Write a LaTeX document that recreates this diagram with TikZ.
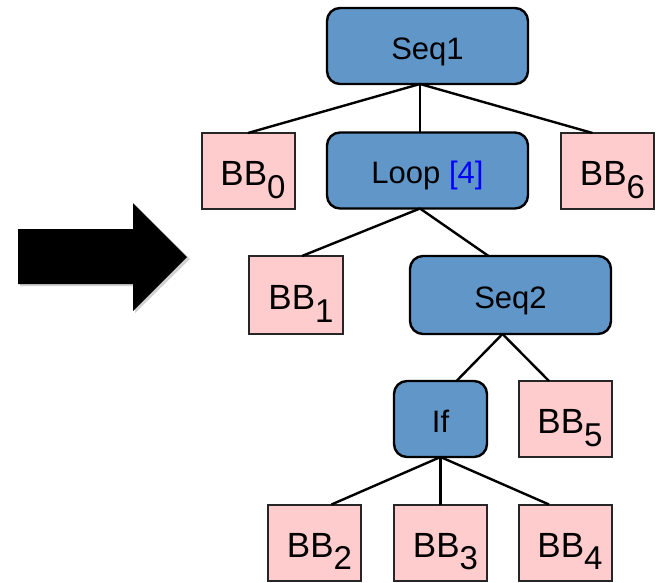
\documentclass[tikz,border=0pt]{standalone}
\usepackage{fontspec}
\setmainfont{Liberation Sans}
\usetikzlibrary{calc}
\definecolor{regionblue}{RGB}{97,150,200}
\definecolor{blockpink}{RGB}{255,204,206}
\definecolor{loopblue}{RGB}{0,0,255}
\newcommand\bblabel[1]{\hspace*{10pt}BB\raisebox{-0.36em}{\fontsize{33}{33}\selectfont #1}}
\begin{document}
\begin{tikzpicture}[x=1pt,y=1pt,
  region/.style={draw=black, line width=2.4pt, fill=regionblue, rounded corners=13pt,
    inner sep=0pt, outer sep=0pt, minimum height=76pt,
    text height=26pt, text depth=0pt,
    font=\fontsize{31}{31}\selectfont},
  wide/.style={minimum width=201pt},
  narrow/.style={minimum width=93pt},
  block/.style={draw=black!85, line width=2pt, fill=blockpink, inner sep=0pt, outer sep=0pt,
    minimum width=93pt, minimum height=76pt, text height=29pt, text depth=0pt,
    font=\fontsize{35}{35}\selectfont},
  edge/.style={line width=2.4pt, black}]
\useasboundingbox (0,0) rectangle (662,-582);

% big arrow on the left, with a faint shadow
\fill[black, opacity=0.18] (20,-231) -- (135,-231) -- (135,-205) -- (190,-259)
  -- (135,-313) -- (135,-286) -- (20,-286) -- cycle;
\fill[black] (18,-229) -- (133,-229) -- (133,-203) -- (187,-257)
  -- (133,-311) -- (133,-284) -- (18,-284) -- cycle;

% tree nodes
\node[region, wide]   (seq1) at (427.5,-46)  {Seq1};
\node[block]          (bb0)  at (248,-171)   {\bblabel{0}};
\node[region, wide]   (loop) at (427.5,-170.5) {Loop \textcolor{loopblue}{[4]}};
\node[block]          (bb6)  at (607.5,-171) {\bblabel{6}};
\node[block, minimum height=78pt, minimum width=94pt] (bb1) at (296,-295) {\bblabel{1}};
\node[region, wide, minimum height=78pt] (seq2) at (510.5,-295) {Seq2};
\node[region, narrow] (if)   at (440.5,-419) {If};
\node[block]          (bb5)  at (565,-419)   {\bblabel{5}};
\node[block]          (bb2)  at (314.5,-542.5) {\bblabel{2}};
\node[block]          (bb3)  at (440.5,-542.5) {\bblabel{3}};
\node[block]          (bb4)  at (565,-542.5)   {\bblabel{4}};

% connectors
\draw[edge] ([xshift=-7.5pt]seq1.south) -- (bb0.north);
\draw[edge] ([xshift=-7.5pt]seq1.south) -- ([xshift=-7.5pt]loop.north);
\draw[edge] ([xshift=-7.5pt]seq1.south) -- ([xshift=-15pt]bb6.north);
\draw[edge] ([xshift=-7.5pt]loop.south) -- ([xshift=6pt]bb1.north);
\draw[edge] ([xshift=-7.5pt]loop.south) -- ([xshift=-22pt]seq2.north);
\draw[edge] ([xshift=-8pt]seq2.south) -- ([xshift=16pt]if.north);
\draw[edge] ([xshift=-8pt]seq2.south) -- ([xshift=-16pt]bb5.north);
\draw[edge] (if.south) -- ([xshift=17pt]bb2.north);
\draw[edge] (if.south) -- (bb3.north);
\draw[edge] (if.south) -- ([xshift=-16pt]bb4.north);
\end{tikzpicture}
\end{document}
